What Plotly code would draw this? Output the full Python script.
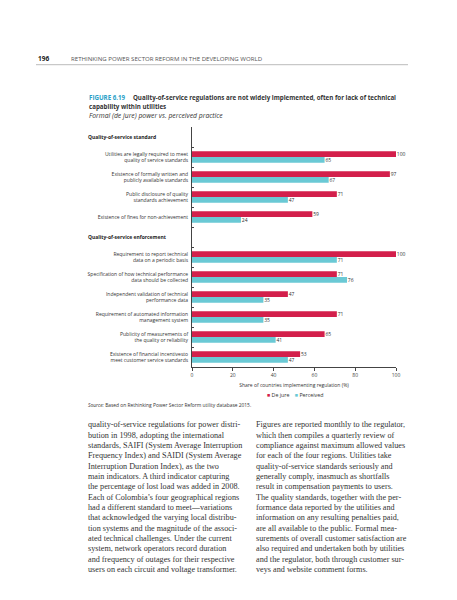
import plotly.graph_objects as go

# rows of the chart, top to bottom (section headers have no bars)
rows = [
    "Quality-of-service standard",
    "Utilities are legally required to meet<br>quality of service standards",
    "Existence of formally written and<br>publicly available standards",
    "Public disclosure of quality<br>standards achievement",
    "Existence of fines for non-achievement",
    "Quality-of-service enforcement",
    "Requirement to report technical<br>data on a periodic basis",
    "Specification of how technical performance<br>data should be collected",
    "Independent validation of technical<br>performance data",
    "Requirement of automated information<br>management system",
    "Publicity of measurements of<br>the quality or reliability",
    "Existence of financial incentivesto<br>meet customer service standards",
]
headers = ["Quality-of-service standard", "Quality-of-service enforcement"]
de_jure = [None, 100, 97, 71, 59, None, 100, 71, 47, 71, 65, 53]
perceived = [None, 65, 67, 47, 24, None, 71, 76, 35, 35, 41, 47]

left_col = [
    "quality-of-service regulations for power distri-",
    "bution in 1998, adopting the international",
    "standards, SAIFI (System Average Interruption",
    "Frequency Index) and SAIDI (System Average",
    "Interruption Duration Index), as the two",
    "main indicators. A third indicator capturing",
    "the percentage of lost load was added in 2008.",
    "Each of Colombia\u2019s four geographical regions",
    "had a different standard to meet\u2014variations",
    "that acknowledged the varying local distribu-",
    "tion systems and the magnitude of the associ-",
    "ated technical challenges. Under the current",
    "system, network operators record duration",
    "and frequency of outages for their respective",
    "users on each circuit and voltage transformer.",
]
right_col = [
    "Figures are reported monthly to the regulator,",
    "which then compiles a quarterly review of",
    "compliance against maximum allowed values",
    "for each of the four regions. Utilities take",
    "quality-of-service standards seriously and",
    "generally comply, inasmuch as shortfalls",
    "result in compensation payments to users.",
    "The quality standards, together with the per-",
    "formance data reported by the utilities and",
    "information on any resulting penalties paid,",
    "are all available to the public. Formal mea-",
    "surements of overall customer satisfaction are",
    "also required and undertaken both by utilities",
    "and the regulator, both through customer sur-",
    "veys and website comment forms.",
]

RED = "#d31f4b"
TEAL = "#6ac9d5"
SANS = "Open Sans"
SERIF = "Liberation Serif"

# plot area in page pixels
X0, X1, Y0, Y1 = 184, 388, 119, 359
W, H = 457, 600


def px(x):
    return (x - X0) / (X1 - X0)


def py(y):
    return (Y1 - y) / (Y1 - Y0)


fig = go.Figure()
for name, vals, col in [("De jure", de_jure, RED), ("Perceived", perceived, TEAL)]:
    fig.add_trace(go.Bar(
        y=rows, x=vals, name=name, orientation="h",
        marker=dict(color=col, line=dict(width=0)),
        text=[("" if v is None else "\u2009" + str(v)) for v in vals],
        textposition="outside", cliponaxis=False, constraintext="none",
        textfont=dict(family=SANS, size=5, color="#333"),
    ))

ticktext = ["" if r in headers else r for r in rows]

fig.update_layout(
    width=W, height=H,
    margin=dict(l=X0, r=W - X1, t=Y0, b=H - Y1, pad=0),
    paper_bgcolor="white", plot_bgcolor="white",
    barmode="group", bargap=0.42, bargroupgap=0,
    showlegend=False,
    font=dict(family=SANS, size=5, color="#333"),
    xaxis=dict(
        range=[0, 100], tickvals=[0, 20, 40, 60, 80, 100],
        showgrid=False, zeroline=False,
        showline=True, linecolor="#444", linewidth=0.8,
        ticks="outside", ticklen=3, tickcolor="#444", tickwidth=0.8,
        tickfont=dict(size=5, color="#444"),
        title=dict(text="Share of countries implementing regulation (%)",
                   font=dict(size=5, color="#333"), standoff=6),
    ),
    yaxis=dict(
        type="category", categoryorder="array", categoryarray=rows,
        autorange="reversed",
        tickmode="array", tickvals=rows, ticktext=ticktext,
        tickson="boundaries", ticks="inside", ticklen=2,
        tickcolor="#444", tickwidth=0.8, ticklabelstandoff=2,
        showline=True, linecolor="#444", linewidth=0.8,
        showgrid=False, zeroline=False,
        tickfont=dict(size=5, color="#333"),
    ),
)

ann = []


def note(x, y, text, size, color="#333", family=SANS, anchor="left"):
    ann.append(dict(
        xref="paper", yref="paper", x=px(x), y=py(y), text=text,
        showarrow=False, xanchor=anchor, yanchor="middle",
        font=dict(family=family, size=size, color=color),
    ))


# section headers
for h in headers:
    ann.append(dict(
        xref="paper", yref="y", x=px(78), y=h, text="<b>" + h + "</b>",
        showarrow=False, xanchor="left", yanchor="middle",
        font=dict(family=SANS, size=5, color="#222"),
    ))

# page header
note(28, 51, "<b>196</b>", 6.5, "#222")
note(61, 51, "RETHINKING POWER SECTOR REFORM IN THE DEVELOPING WORLD", 6.1, "#555")

# figure title
note(79, 89, "<b><span style='color:#2a9fc8'>FIGURE 6.19</span>\u2003 "
     "Quality-of-service regulations are not widely implemented, often for lack of technical</b>",
     6.2, "#333")
note(79, 98, "<b>capability within utilities</b>", 6.2, "#333")
note(79, 107.5, "<i>Formal (de jure) power vs. perceived practice</i>", 6.8, "#333")

# legend
note(287, 387, "<span style='color:%s'>\u25a0</span> De jure\u2003"
     "<span style='color:%s'>\u25a0</span> Perceived" % (RED, TEAL), 5.3, "#333", anchor="center")

# source
note(78, 397, "<i>Source:</i> Based on Rethinking Power Sector Reform utility database 2015.",
     4.9, "#333")

# body text
for i, line in enumerate(left_col):
    note(78, 416.7 + i * 10.35, line, 8.2, "#333", SERIF)
for i, line in enumerate(right_col):
    note(246, 416.7 + i * 10.35, line, 8.2, "#333", SERIF)

fig.update_layout(
    annotations=ann,
    shapes=[dict(type="line", xref="paper", yref="paper",
                 x0=px(28), x1=px(400), y0=py(56.7), y1=py(56.7),
                 line=dict(color="#aaa", width=0.8))],
)

fig.write_html("out.html")
